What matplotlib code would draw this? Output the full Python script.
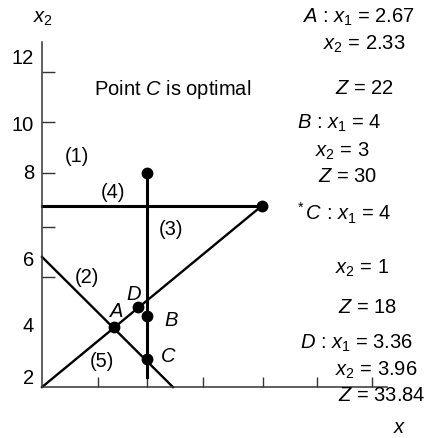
import matplotlib
matplotlib.use("Agg")
import matplotlib.pyplot as plt

plt.rcParams["font.family"] = ["Liberation Sans", "DejaVu Sans"]
plt.rcParams["mathtext.fontset"] = "custom"
plt.rcParams["mathtext.rm"] = "Liberation Sans"
plt.rcParams["mathtext.it"] = "Liberation Sans:italic"

# constraint lines (in axis units)
line2_x = [0, 4.99]
line2_y = [5.86, 1.89]
line5_x = [0, 8.38]
line5_y = [1.89, 7.42]
line4_x = [0, 8.38]
line4_y = [7.42, 7.42]
line3_x = [4, 4]
line3_y = [8.42, 2.2]

# corner points
pt_x = [2.74, 3.65, 4.0, 4.0, 4.0, 8.38]
pt_y = [3.72, 4.33, 4.05, 2.74, 8.42, 7.42]

# axis ticks and labels
xtick_pos = [2.13, 4.0, 6.13, 8.42, 10.48, 12.57]
ytick_pos = [5.25, 6.77, 8.42, 9.97, 11.50]
ylabel_vals = ["2", "4", "6", "8", "10", "12"]
ylabel_pos = [2.17, 3.78, 5.77, 8.42, 9.91, 11.95]

# labels on the lines / points
mark_text = ["(1)", "(4)", "(3)", "(2)", r"$D$", r"$A$", r"$B$", r"$C$", "(5)"]
mark_x = [1.33, 2.70, 4.91, 1.71, 3.50, 2.82, 4.91, 4.80, 2.29]
mark_y = [8.94, 7.84, 6.74, 5.25, 4.73, 4.24, 3.94, 2.84, 2.69]

# solutions listed on the right
notes = [
    r"$A$ : $x_1$ = 2.67", r"$x_2$ = 2.33", r"$Z$ = 22",
    r"$B$ : $x_1$ = 4", r"$x_2$ = 3", r"$Z$ = 30",
    r"$^*C$ : $x_1$ = 4", r"$x_2$ = 1", r"$Z$ = 18",
    r"$D$ : $x_1$ = 3.36", r"$x_2$ = 3.96", r"$Z$ = 33.84",
]
notes_px = [302, 323, 335, 297, 315, 318, 295, 335, 338, 300, 335, 338]
notes_py = [17, 44, 88, 123, 151, 176, 213, 268, 308, 343, 370, 396]

W, H = 433, 439
fig = plt.figure(figsize=(W / 100, H / 100), dpi=100)
ax = fig.add_axes([0, 0, 1, 1])
ax.set_xlim(-42 / 26.25, (W - 42) / 26.25)
ax.set_ylim(7 - (H - 220.5) / 32.8, 7 + 220.5 / 32.8)
ax.patch.set_alpha(0)

for s in ["top", "right"]:
    ax.spines[s].set_visible(False)
ax.spines["left"].set_position(("data", 0))
ax.spines["bottom"].set_position(("data", 1.89))
ax.spines["left"].set_bounds(1.89, 12.41)
ax.spines["bottom"].set_bounds(0, 13.14)
for s in ["left", "bottom"]:
    ax.spines[s].set_linewidth(1.1)
    ax.spines[s].set_color("#333333")

ax.set_xticks(xtick_pos)
ax.set_yticks(ytick_pos)
ax.tick_params(axis="x", direction="in", length=7.5, width=1.0, color="#333333", labelbottom=False)
ax.tick_params(axis="y", direction="in", length=9, width=1.0, color="#333333", labelleft=False)

ax.plot(line4_x, line4_y, color="black", lw=2.2)
ax.plot(line3_x, line3_y, color="black", lw=2.2)
ax.plot(line2_x, line2_y, color="black", lw=1.7)
ax.plot(line5_x, line5_y, color="black", lw=1.7)
ax.plot(pt_x, pt_y, "o", color="black", ms=7.5)

fs = 14.5
for v, y in zip(ylabel_vals, ylabel_pos):
    ax.text(-0.3, y, v, ha="right", va="center", fontsize=fs)
for t, x, y in zip(mark_text, mark_x, mark_y):
    ax.text(x, y, t, ha="center", va="center", fontsize=fs)

ax.text(4.99, 10.98, r"Point $C$ is optimal", ha="center", va="center", fontsize=fs)
ax.text(0.04, 13.17, r"$x_2$", ha="center", va="center", fontsize=fs)

for t, px, py in zip(notes, notes_px, notes_py):
    fig.text(px / W, 1 - py / H, t, ha="left", va="center", fontsize=fs)
fig.text(400 / W, 1 - 428 / H, r"$x$", ha="center", va="center", fontsize=fs)

fig.savefig("out.png", dpi=100)
